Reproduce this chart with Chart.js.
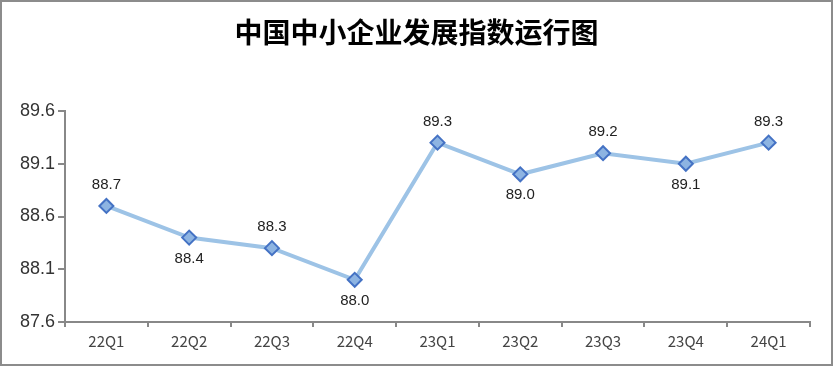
<!DOCTYPE html>
<html>
<head>
<meta charset="utf-8">
<script src="https://cdn.jsdelivr.net/npm/chart.js@4/dist/chart.umd.min.js"></script>
<style>
  html, body { margin: 0; padding: 0; background: #fff; }
  #wrap { width: 833px; height: 366px; box-sizing: border-box; border: 2px solid #8c8c8c; }
  canvas { display: block; }
</style>
</head>
<body>
<div id="wrap"><canvas id="chart" width="829" height="362"></canvas></div>
<script>
// 数据
const title      = '中国中小企业发展指数运行图';
const quarters   = ['22Q1','22Q2','22Q3','22Q4','23Q1','23Q2','23Q3','23Q4','24Q1'];
const indexVals  = [88.7, 88.4, 88.3, 88.0, 89.3, 89.0, 89.2, 89.1, 89.3];
const labelSide  = ['top','bottom','top','bottom','top','bottom','top','bottom','top'];
const yMin = 87.6, yMax = 89.6, yStep = 0.5;

// 标题 + 数据标签
const labelsPlugin = {
  id: 'labels',
  afterDraw(chart) {
    const ctx = chart.ctx;
    ctx.save();
    ctx.fillStyle = '#000';
    ctx.font = 'bold 28px "Noto Sans CJK SC"';
    ctx.textAlign = 'center';
    ctx.textBaseline = 'middle';
    ctx.fillText(title, chart.width / 2, 30);

    ctx.font = '15px "Liberation Sans", Arial';
    ctx.fillStyle = '#222';
    const meta = chart.getDatasetMeta(0);
    meta.data.forEach((pt, i) => {
      const dy = labelSide[i] === 'top' ? -21 : 21;
      ctx.fillText(indexVals[i].toFixed(1), pt.x, pt.y + dy);
    });
    ctx.restore();
  }
};

new Chart(document.getElementById('chart'), {
  type: 'line',
  data: {
    labels: quarters,
    datasets: [{
      data: indexVals,
      borderColor: '#9dc3e6',
      borderWidth: 4,
      pointStyle: 'rectRot',
      pointRadius: 7,
      pointBorderWidth: 2,
      pointBackgroundColor: '#8db4e2',
      pointBorderColor: '#4472c4',
      tension: 0
    }]
  },
  options: {
    responsive: false,
    animation: false,
    layout: { padding: { top: 109, left: 0, right: 21, bottom: 0 } },
    plugins: { legend: { display: false }, tooltip: { enabled: false }, title: { display: false } },
    scales: {
      x: {
        offset: true,
        grid: { offset: true, drawOnChartArea: false, drawTicks: true, tickLength: 5, color: '#888', lineWidth: 2 },
        border: { color: '#888', width: 2 },
        ticks: { font: { size: 15, family: '"Noto Sans CJK SC"' }, color: '#444', padding: 5, maxRotation: 0 },
        afterFit(scale) { scale.height = 42; }
      },
      y: {
        min: yMin, max: yMax,
        grid: { drawOnChartArea: false, drawTicks: true, tickLength: 7, color: '#888', lineWidth: 2 },
        border: { color: '#888', width: 2 },
        ticks: { stepSize: yStep, font: { size: 18, family: '"Liberation Sans", Arial' }, color: '#333', padding: 3,
                 callback: v => v.toFixed(1) },
        afterFit(scale) { scale.width = 63; }
      }
    }
  },
  plugins: [labelsPlugin]
});
</script>
</body>
</html>
